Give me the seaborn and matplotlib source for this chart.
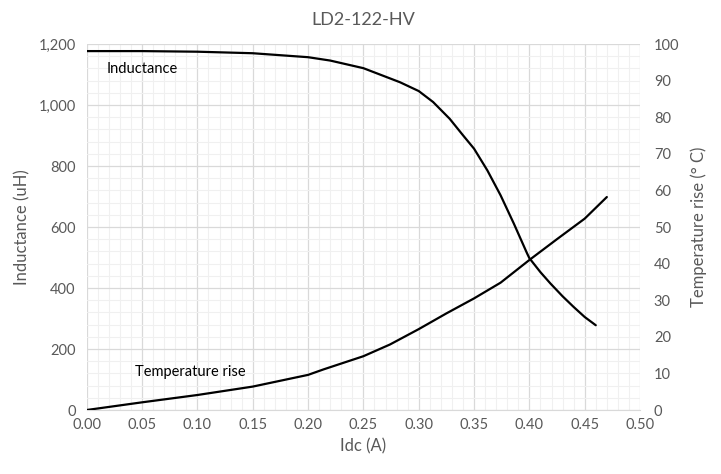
import numpy as np
import pandas as pd
import matplotlib
matplotlib.use('Agg')
import matplotlib.pyplot as plt
from matplotlib.ticker import MultipleLocator, FuncFormatter
import seaborn as sns

# Datos
idc_ind = [0.00, 0.05, 0.10, 0.15, 0.20, 0.22, 0.25, 0.283, 0.30, 0.313, 0.328,
           0.34, 0.35, 0.362, 0.374, 0.386, 0.398, 0.40, 0.41, 0.419, 0.43, 0.44,
           0.45, 0.46]
inductancia = [1177, 1177, 1175, 1170, 1157, 1146, 1121, 1075, 1046, 1010, 955,
               901, 857, 786, 704, 611, 513, 498, 452, 415, 373, 338, 305, 278]

idc_temp = [0.00, 0.05, 0.10, 0.15, 0.20, 0.214, 0.25, 0.274, 0.30, 0.325, 0.35,
            0.374, 0.40, 0.425, 0.45, 0.47]
temperatura = [0, 2.1, 4.1, 6.4, 9.6, 11.1, 14.7, 17.9, 22.1, 26.4, 30.5,
               34.8, 41.0, 46.7, 52.3, 58.2]

df_ind = pd.DataFrame({'Idc': idc_ind, 'L': inductancia})
df_temp = pd.DataFrame({'Idc': idc_temp, 'T': temperatura})

sns.set_style('white')
plt.rcParams['font.family'] = ['Lato', 'DejaVu Sans']
gris = '#595959'

fig, ax = plt.subplots(figsize=(7.21, 4.74), dpi=100)
fig.subplots_adjust(left=0.1203, right=0.8877, top=0.907, bottom=0.135)
ax2 = ax.twinx()

sns.lineplot(data=df_ind, x='Idc', y='L', ax=ax, color='black', linewidth=1.6)
sns.lineplot(data=df_temp, x='Idc', y='T', ax=ax2, color='black', linewidth=1.6)

ax.set_xlim(0, 0.5)
ax.set_ylim(0, 1200)
ax2.set_ylim(0, 100)

ax.xaxis.set_major_locator(MultipleLocator(0.05))
ax.xaxis.set_minor_locator(MultipleLocator(0.01))
ax.yaxis.set_major_locator(MultipleLocator(200))
ax.yaxis.set_minor_locator(MultipleLocator(40))
ax2.yaxis.set_major_locator(MultipleLocator(10))
ax.xaxis.set_major_formatter(FuncFormatter(lambda v, p: f'{v:.2f}'))
ax.yaxis.set_major_formatter(FuncFormatter(lambda v, p: f'{v:,.0f}'))

ax.grid(which='major', color='#d9d9d9', linewidth=0.9)
ax.grid(which='minor', color='#f0f0f0', linewidth=0.8)
ax.set_axisbelow(True)

for a in (ax, ax2):
    for s in a.spines.values():
        s.set_visible(False)
    a.tick_params(which='both', length=0, colors=gris, labelsize=10.5)
ax.spines['bottom'].set_visible(True)
ax.spines['bottom'].set_color('#d9d9d9')
ax.tick_params(axis='x', pad=6)
ax.tick_params(axis='y', pad=8)
ax2.tick_params(axis='y', pad=10)

ax.set_xlabel('Idc (A)', color=gris, fontsize=12, labelpad=4)
ax.set_ylabel('Inductance (uH)', color=gris, fontsize=12, labelpad=6)
ax2.set_ylabel('Temperature rise (° C)', color=gris, fontsize=12, labelpad=8)
ax.set_title('LD2-122-HV', color=gris, fontsize=13, pad=14)

ax.text(0.0184, 1117, 'Inductance', fontsize=10.5, color='black', va='center')
ax.text(0.0437, 124, 'Temperature rise', fontsize=10.5, color='black', va='center')

plt.savefig('out.png', dpi=100)
